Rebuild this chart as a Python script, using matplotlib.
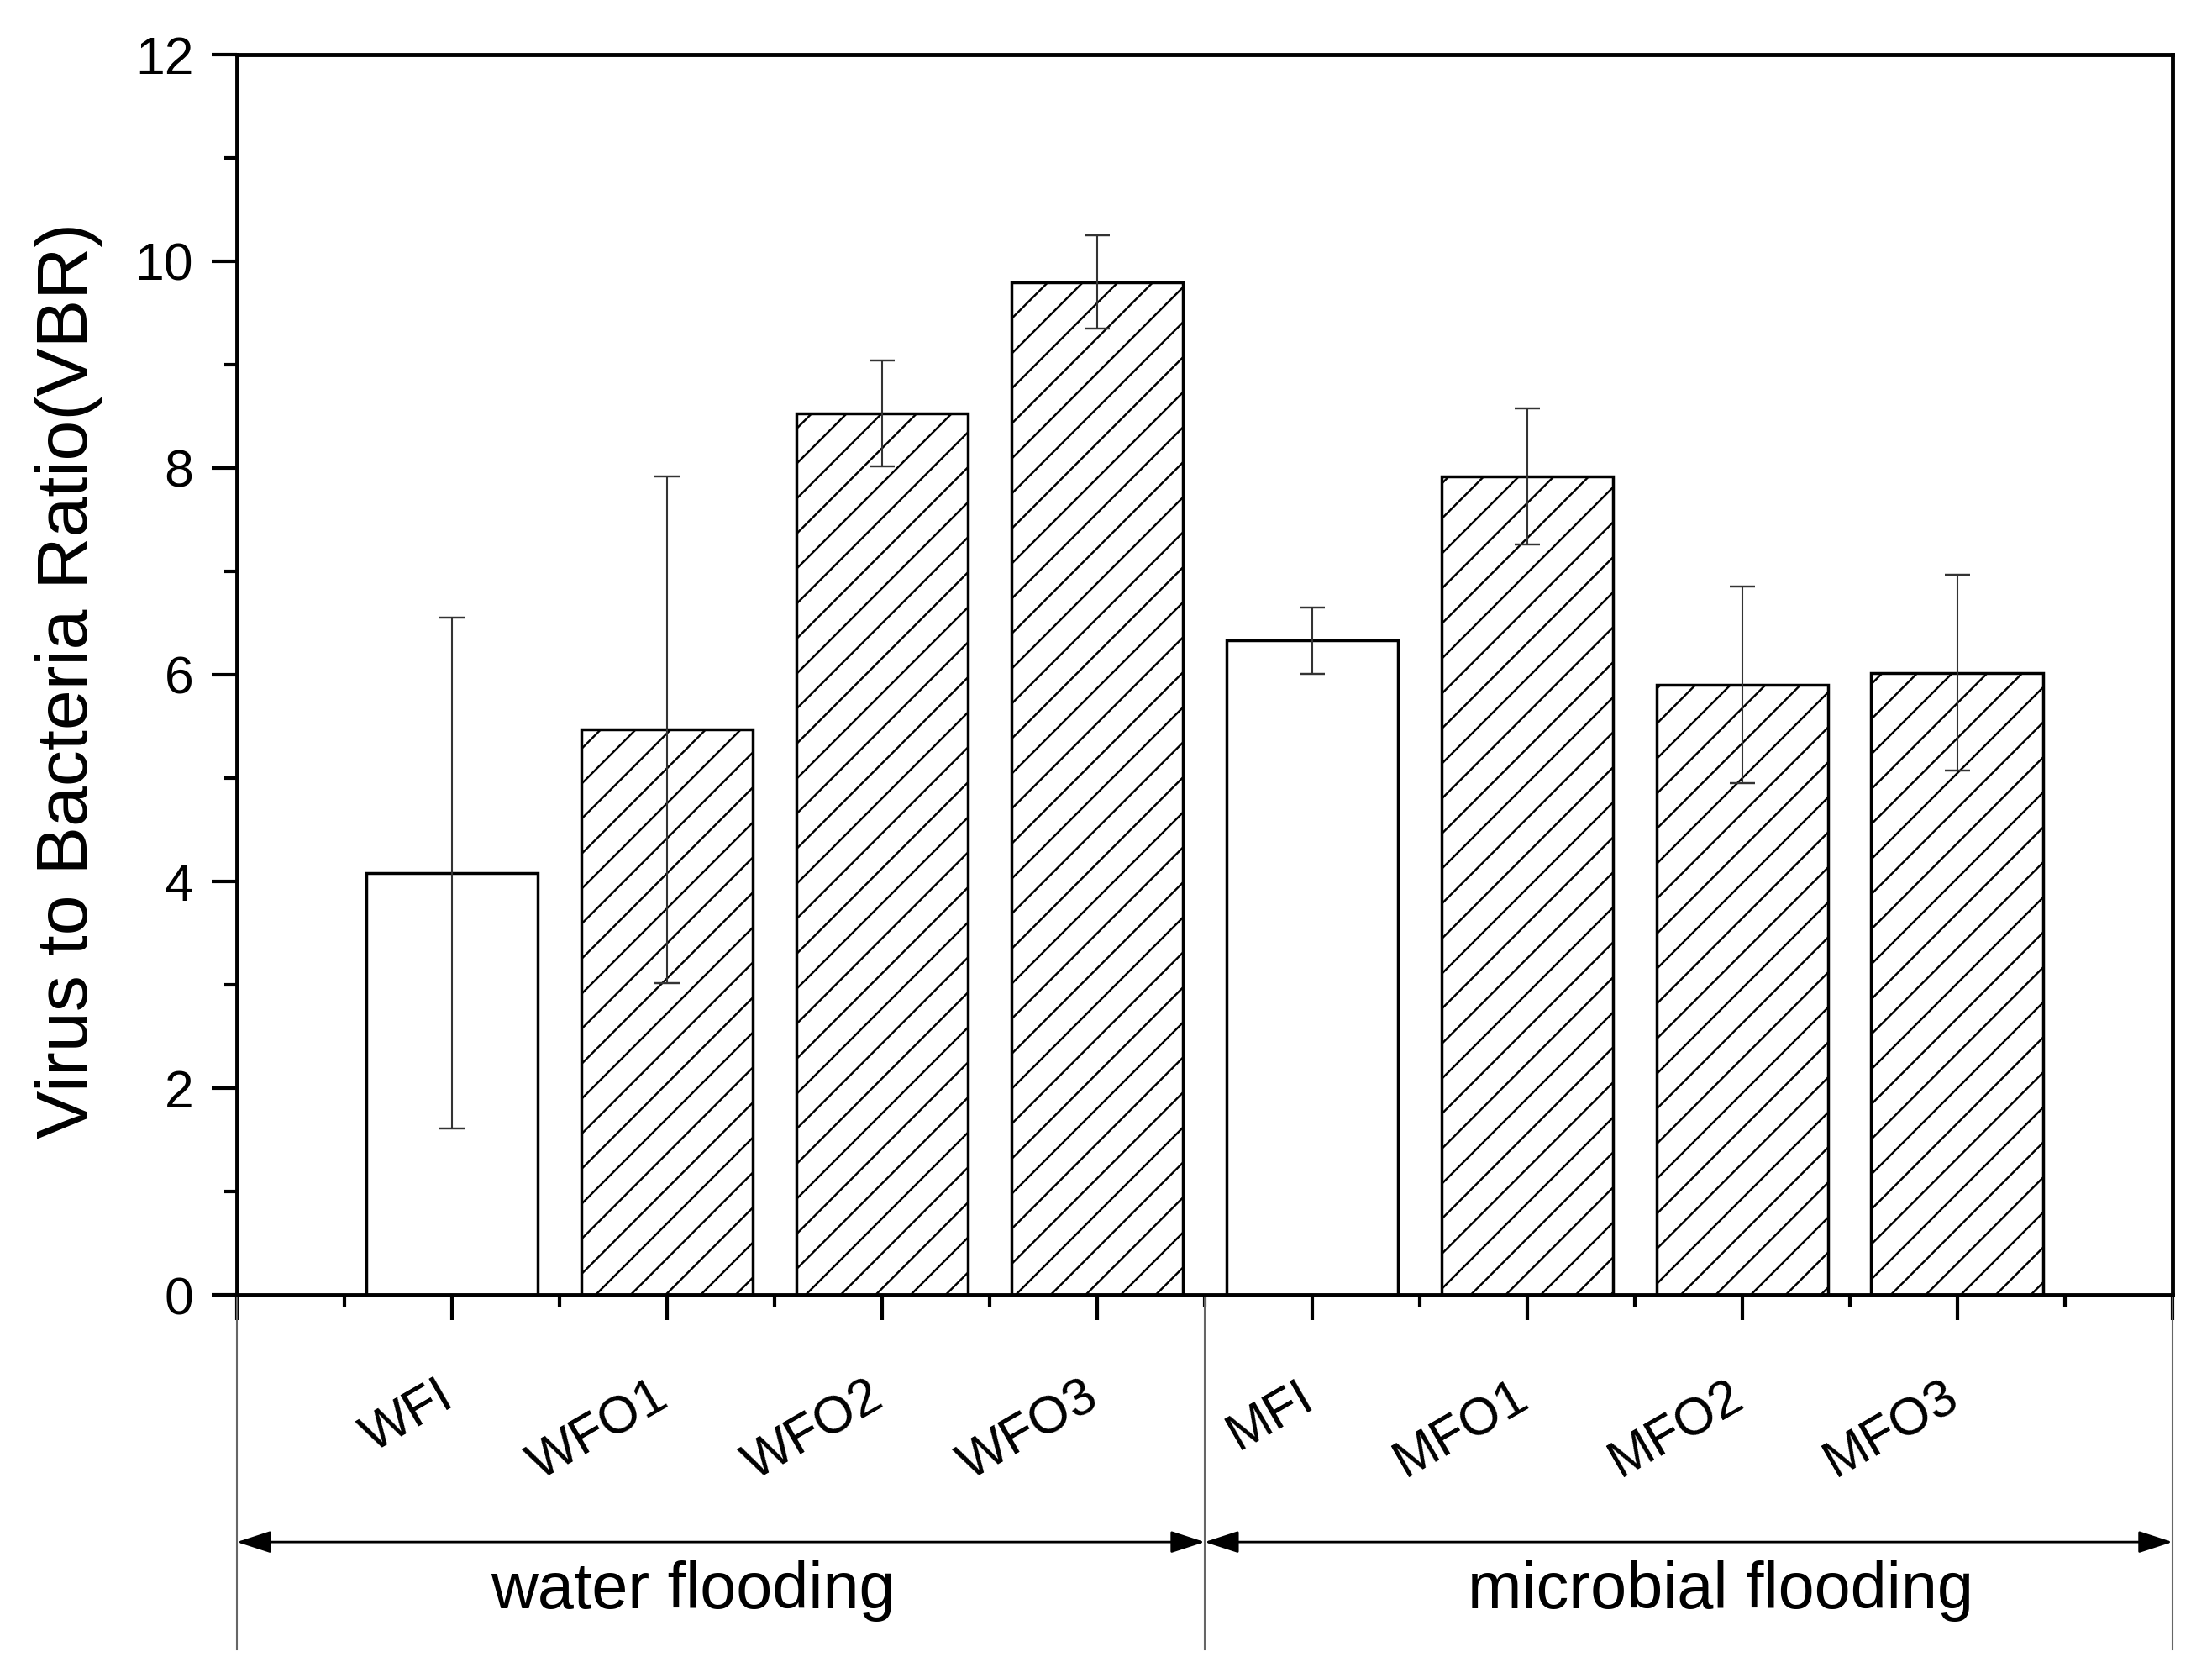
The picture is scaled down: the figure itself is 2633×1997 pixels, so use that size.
import matplotlib
matplotlib.use("Agg")
import matplotlib.pyplot as plt
from matplotlib.ticker import MultipleLocator

plt.rcParams.update({"font.family": ["Liberation Sans", "DejaVu Sans"],
                     "hatch.linewidth": 0.7, "hatch.color": "black"})

# data
samples = ["WFI", "WFO1", "WFO2", "WFO3", "MFI", "MFO1", "MFO2", "MFO3"]
vbr = [4.08, 5.47, 8.53, 9.80, 6.33, 7.92, 5.90, 6.02]
vbr_err = [2.47, 2.45, 0.51, 0.45, 0.32, 0.66, 0.95, 0.95]
hatches = ["", "//", "//", "//", "", "//", "//", "//"]
groups = ["water flooding", "microbial flooding"]
group_span = [(0, 4.5), (4.5, 9)]
group_text_x = [2.12, 6.9]

fig = plt.figure(figsize=(2633 / 250, 1997 / 250), dpi=250)
ax = fig.add_axes([0.1071, 0.2283, 0.875, 0.7392])

xs = list(range(1, len(samples) + 1))
for x, v, h in zip(xs, vbr, hatches):
    ax.bar(x, v, width=0.8, color="white", edgecolor="black", linewidth=1.0,
           hatch=h, zorder=2)
ax.errorbar(xs, vbr, yerr=vbr_err, fmt="none", ecolor="#333333",
            elinewidth=0.6, capsize=4.3, capthick=0.7, zorder=3)

ax.set_xlim(0, 9)
ax.set_ylim(0, 12)
ax.yaxis.set_major_locator(MultipleLocator(2))
ax.yaxis.set_minor_locator(MultipleLocator(1))
ax.xaxis.set_major_locator(MultipleLocator(1))
ax.xaxis.set_minor_locator(MultipleLocator(0.5))
ax.set_xticklabels([])
ax.tick_params(which="both", direction="out", width=1.2, top=False, right=False)
ax.tick_params(which="major", length=8.6)
ax.tick_params(which="minor", length=4.3)
ax.tick_params(axis="y", labelsize=18, pad=6.3)
for s in ax.spines.values():
    s.set_linewidth(1.4)

fig.text(0.031, 1 - 810 / 1997, "Virus to Bacteria Ratio(VBR)", rotation=90,
         ha="center", va="center", fontsize=24.8)

trans = ax.get_xaxis_transform()
for x, name in zip(xs, samples):
    ax.text(x + 0.02, -0.0888, name, transform=trans, rotation=30,
            rotation_mode="anchor", ha="right", va="baseline", fontsize=18)

for xv in (0, 4.5, 9):
    ax.plot([xv, xv], [0, -0.286], transform=trans, color="#666666", lw=0.6,
            clip_on=False)

for (x0, x1), name, tx in zip(group_span, groups, group_text_x):
    ax.annotate("", xy=(x1, -0.1992), xytext=(x0, -0.1992), xycoords=trans,
                textcoords=trans,
                arrowprops=dict(arrowstyle="<|-|>,head_length=0.4,head_width=0.13",
                                mutation_scale=25, color="black", lw=0.8,
                                shrinkA=0, shrinkB=0))
    ax.text(tx, -0.2527, name, transform=trans, ha="center", va="baseline",
            fontsize=22.3)

fig.savefig("out.png", dpi=250, facecolor="white")
